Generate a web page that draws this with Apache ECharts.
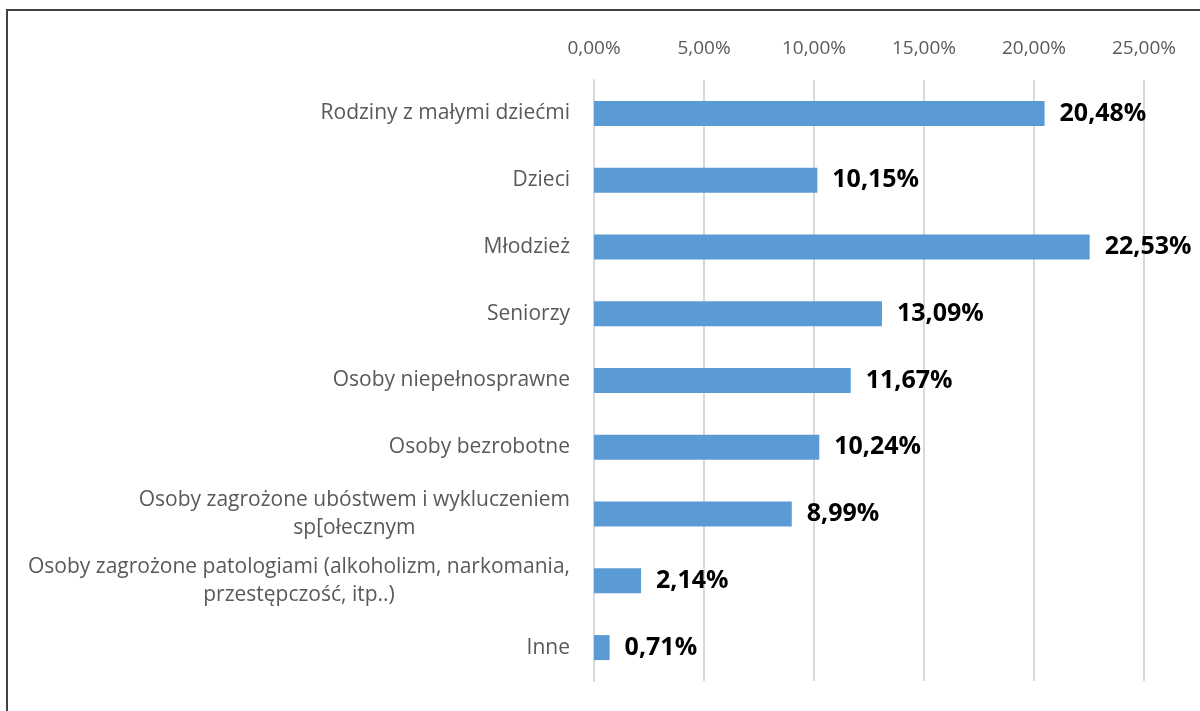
<!DOCTYPE html>
<html>
<head>
<meta charset="utf-8">
<script src="https://cdn.jsdelivr.net/npm/echarts@6/dist/echarts.min.js"></script>
<style>
  html, body { margin: 0; padding: 0; background: #fff; }
  #chart { width: 1200px; height: 711px; }
</style>
</head>
<body>
<div id="chart"></div>
<script>
  var categories = [
    'Rodziny z małymi dziećmi',
    'Dzieci',
    'Młodzież',
    'Seniorzy',
    'Osoby niepełnosprawne',
    'Osoby bezrobotne',
    'Osoby zagrożone ubóstwem i wykluczeniem\nsp[ołecznym',
    'Osoby zagrożone patologiami (alkoholizm, narkomania,\nprzestępczość, itp..)',
    'Inne'
  ]
  var values = [20.48, 10.15, 22.53, 13.09, 11.67, 10.24, 8.99, 2.14, 0.71]
  var xTicks = [0, 5, 10, 15, 20, 25]

  var font = '"Open Sans", Lato, sans-serif'
  function pct(v) {
    return v.toFixed(2).replace('.', ',') + '%'
  }

  var chart = echarts.init(document.getElementById('chart'))
  chart.setOption({
    animation: false,
    textStyle: { fontFamily: font },
    graphic: [
      {
        type: 'rect',
        shape: { x: 7, y: 10, width: 1400, height: 1000 },
        style: { fill: 'none', stroke: '#404040', lineWidth: 2 },
        silent: true
      }
    ],
    grid: {
      left: 594,
      right: 56,
      top: 80,
      bottom: 30,
      containLabel: false
    },
    xAxis: {
      type: 'value',
      position: 'top',
      min: xTicks[0],
      max: xTicks[xTicks.length - 1],
      interval: 5,
      axisLine: { show: false },
      axisTick: { show: false },
      axisLabel: {
        color: '#595959',
        fontSize: 19,
        fontFamily: font,
        margin: 22,
        formatter: function (v) { return pct(v) }
      },
      splitLine: { lineStyle: { color: '#d9d9d9', width: 2 } }
    },
    yAxis: {
      type: 'category',
      inverse: true,
      data: categories,
      axisLine: { show: true, lineStyle: { color: '#d9d9d9', width: 2 } },
      axisTick: { show: false },
      axisLabel: {
        margin: 24,
        formatter: function (v) {
          return v.split('\n').map(function (s) { return '{c|' + s + '}' }).join('\n')
        },
        rich: {
          c: { align: 'center', color: '#595959', fontSize: 21, fontFamily: font, lineHeight: 28 }
        }
      }
    },
    series: [
      {
        type: 'bar',
        data: values,
        barWidth: 25,
        itemStyle: { color: '#5b9bd5' },
        label: {
          show: true,
          position: 'right',
          distance: 15,
          color: '#000',
          fontSize: 25,
          fontWeight: 'bold',
          fontFamily: font,
          formatter: function (p) { return pct(p.value) }
        }
      }
    ]
  })
</script>
</body>
</html>
